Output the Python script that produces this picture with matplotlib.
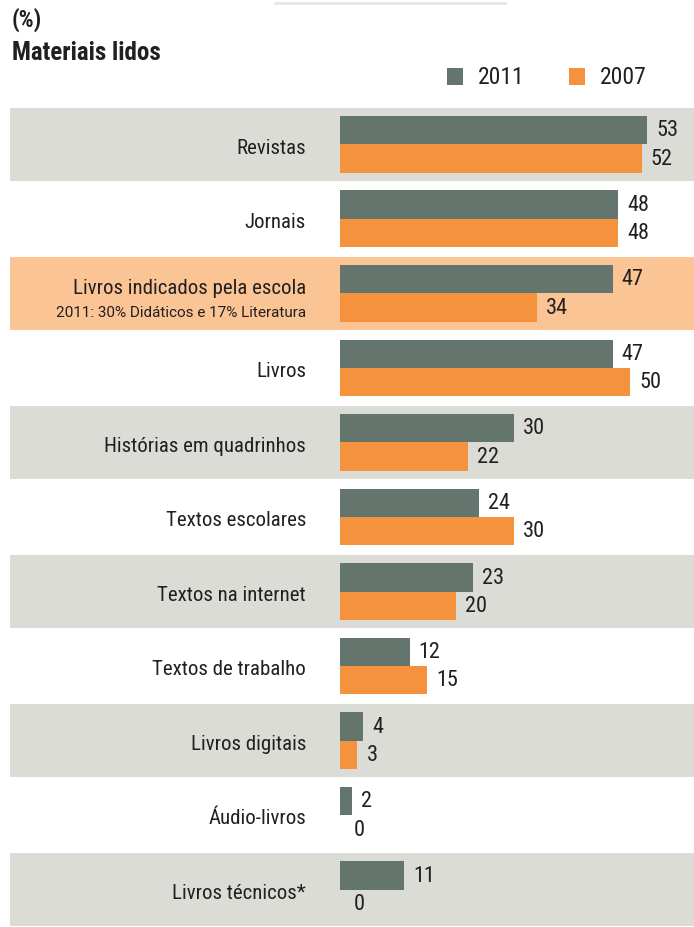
import matplotlib
matplotlib.use("Agg")
import matplotlib.pyplot as plt
from matplotlib.patches import Rectangle
from matplotlib.lines import Line2D

# ── Data ──
categories = [
    "Revistas", "Jornais", "Livros indicados pela escola", "Livros",
    "Histórias em quadrinhos", "Textos escolares", "Textos na internet",
    "Textos de trabalho", "Livros digitais", "Áudio-livros", "Livros técnicos*",
]
values_2011 = [53, 48, 47, 47, 30, 24, 23, 12, 4, 2, 11]
values_2007 = [52, 48, 34, 50, 22, 30, 20, 15, 3, 0, 0]
series_names = ["2011", "2007"]
highlight_note = "2011: 30% Didáticos e 17% Literatura"
highlight_idx = 2

# ── Style ──
GRAY_BAR = "#63756d"
ORANGE_BAR = "#f5923e"
GRAY_BAND = "#dcdcd7"
ORANGE_BAND = "#fac495"
TEXT = "#231f20"
FONT = ["Roboto Condensed", "Liberation Sans Narrow", "Liberation Sans", "DejaVu Sans"]
plt.rcParams["font.family"] = FONT

W, H = 694, 927
fig = plt.figure(figsize=(W / 100, H / 100), dpi=100)

# chart area: from y=107 px down to bottom, x=10 px to right edge
top_px = 107
ax = fig.add_axes([10 / W, 0, 1 - 10 / W, (H - top_px) / H])
ax.set_axis_off()

px_per_unit = 5.8
zero_px = 340
ax.set_xlim((10 - zero_px) / px_per_unit, (W - zero_px) / px_per_unit)
n = len(categories)
ax.set_ylim(n - 0.5, -0.5)

# ── Bands ──
for i in range(n):
    if i == highlight_idx:
        col = ORANGE_BAND
    elif i % 2 == 0:
        col = GRAY_BAND
    else:
        continue
    ax.axhspan(i - 0.49, i + 0.49, color=col, lw=0, zorder=0)

# ── Bars ──
bh = 0.38
ys = list(range(n))
ax.barh([y - bh / 2 for y in ys], values_2011, height=bh, color=GRAY_BAR,
        align="center", zorder=2)
ax.barh([y + bh / 2 for y in ys], values_2007, height=bh, color=ORANGE_BAR,
        align="center", zorder=2)

for y, v in zip(ys, values_2011):
    ax.annotate(str(v), (v, y - bh / 2), xytext=(6.5, -0.5), textcoords="offset points",
                ha="left", va="center", fontsize=16, color=TEXT)
for y, v in zip(ys, values_2007):
    ax.annotate(str(v), (v, y + bh / 2), xytext=(6.5 if v else 10, -0.5),
                textcoords="offset points",
                ha="left", va="center", fontsize=16, color=TEXT)

# ── Category labels ──
label_x = (306 - zero_px) / px_per_unit
for i, cat in enumerate(categories):
    if i == highlight_idx:
        ax.text(label_x, i - 0.06, cat, ha="right", va="center",
                fontsize=15, color=TEXT)
        ax.text(label_x, i + 0.26, highlight_note, ha="right", va="center",
                fontsize=11, color=TEXT, family=["Roboto", "DejaVu Sans"])
    else:
        ax.text(label_x, i + 0.05, cat, ha="right", va="center",
                fontsize=15, color=TEXT)

# ── Title ──
fig.text(12 / W, 1 - 20 / H, "(%)", ha="left", va="center",
         fontsize=17, fontweight="bold", color=TEXT)
fig.text(12 / W, 1 - 53 / H, "Materiais lidos", ha="left", va="center",
         fontsize=18, fontweight="bold", color=TEXT)

# faint rule at the very top
fig.add_artist(Line2D([275 / W, 505 / W], [1 - 3 / H, 1 - 3 / H],
                      color="#e6e6e6", lw=2))

# ── Legend ──
for name, col, sx in zip(series_names, [GRAY_BAR, ORANGE_BAR], [447, 569]):
    fig.add_artist(Rectangle((sx / W, 1 - 85 / H), 16 / W, 17 / H,
                             transform=fig.transFigure, color=col, lw=0))
    fig.text((sx + 31) / W, 1 - 77 / H, name, ha="left", va="center",
             fontsize=17, color=TEXT)

fig.savefig("out.png", dpi=100, facecolor="white")
